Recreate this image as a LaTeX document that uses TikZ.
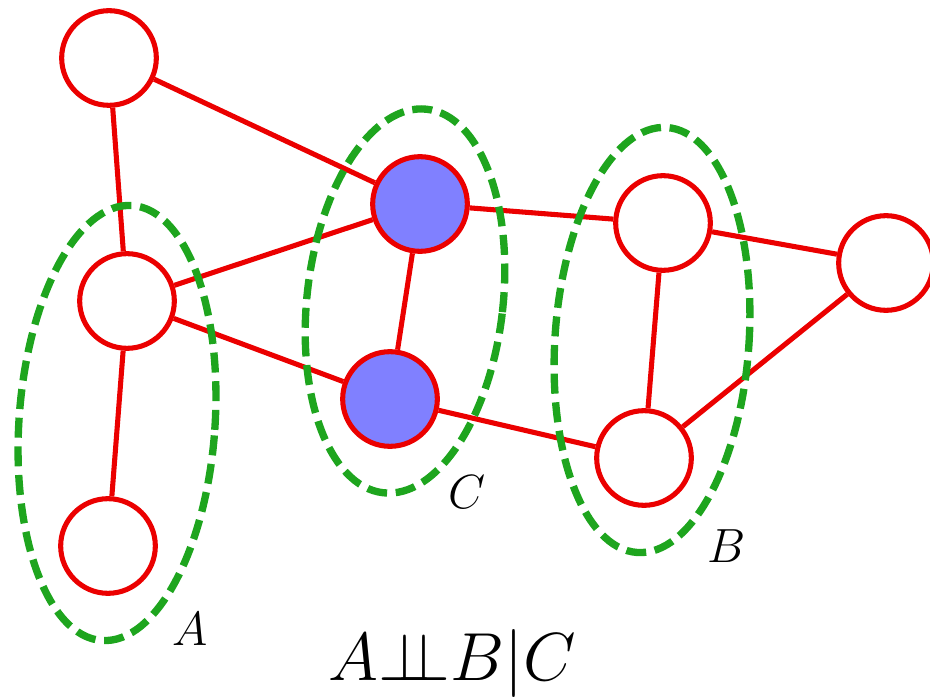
\documentclass[tikz,border=0pt]{standalone}
\usepackage{fix-cm}
\definecolor{edgered}{RGB}{235,0,0}
\definecolor{obsblue}{RGB}{128,128,255}
\definecolor{dashgreen}{RGB}{30,165,30}
\begin{document}
\begin{tikzpicture}[x=0.75pt, y=0.75pt,
    vtx/.style={circle, draw=edgered, line width=3.8pt, fill=white, minimum size=71pt, inner sep=0pt},
    obs/.style={vtx, fill=obsblue},
    edge/.style={draw=edgered, line width=3.8pt},
    grp/.style={draw=dashgreen, line width=5.5pt, dash pattern=on 15pt off 6.5pt},
    lbl/.style={font=\fontsize{36}{43}\selectfont}]
    % 1. Vùng hiển thị
    \useasboundingbox (0,0) rectangle (930,696);

    % 2. Các đỉnh
    \node[vtx] (tl) at (109,638) {};
    \node[vtx] (lm) at (127,395) {};
    \node[vtx] (bl) at (108,150) {};
    \node[obs] (ct) at (420,492) {};
    \node[obs] (cb) at (390,297) {};
    \node[vtx] (bt) at (663,473) {};
    \node[vtx] (bb) at (644,238) {};
    \node[vtx] (rt) at (886,433) {};

    % 3. Các cạnh
    \foreach \a/\b in {tl/lm, tl/ct, lm/ct, lm/cb, lm/bl, ct/cb, ct/bt, cb/bb, bt/bb, bt/rt, bb/rt}
        \draw[edge] (\a) -- (\b);

    % 4. Các nhóm A, C, B (nét đứt màu xanh)
    \draw[grp] (117,273) ellipse [x radius=98, y radius=218, rotate=-4];
    \draw[grp] (405,395) ellipse [x radius=98, y radius=193, rotate=-6.5];
    \draw[grp] (652,356) ellipse [x radius=97, y radius=213, rotate=-4];

    % 5. Nhãn
    \node[lbl] (la) at (190,66.5) {$A$};
    \node[lbl] (lc) at (467,203.5) {$C$};
    \node[lbl] (lb) at (727,150) {$B$};
    \node[anchor=base, font=\fontsize{51}{61}\selectfont] (ind) at (452,16) {$A{\perp\!\!\!\perp}B|C$};
\end{tikzpicture}
\end{document}
